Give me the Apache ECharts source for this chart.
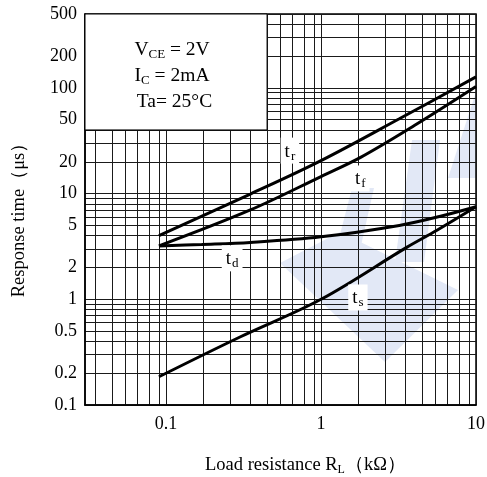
<!DOCTYPE html>
<html><head><meta charset="utf-8">
<script src="https://cdn.jsdelivr.net/npm/echarts@6/dist/echarts.min.js"></script>
<style>html,body{margin:0;padding:0;background:#fff}#c{width:487px;height:477px}</style>
</head><body><div id="c"></div>
<script>
// ---- data ----
const resistance_tr = [0.09, 0.35, 1, 3.2, 10];
const time_tr       = [4.0, 9.9, 20.5, 51, 127];
const resistance_tf = [0.09, 0.35, 1, 1.8, 4, 10];
const time_tf       = [3.2, 7.0, 14.5, 22, 44, 103];
const resistance_td = [0.09, 0.17, 0.35, 1, 3.2, 5.9, 10];
const time_td       = [3.2, 3.3, 3.45, 3.9, 5.0, 6.1, 7.5];
const resistance_ts = [0.09, 0.3, 1, 3.57, 5.6, 10];
const time_ts       = [0.185, 0.44, 1.0, 3.1, 4.5, 7.5];

const xTickLabels = [0.1, 1, 10];
const yTickLabels = [0.1, 0.2, 0.5, 1, 2, 5, 10, 20, 50, 100, 200, 500];
// grid line positions as drawn on the original sheet
const xGridValues = [0.035, 0.0449, 0.0542, 0.0656, 0.0785, 0.0904, 0.1,
  0.1726, 0.2588, 0.35, 0.4487, 0.542, 0.656, 0.785, 0.904, 1,
  1.726, 2.588, 3.5, 4.487, 5.42, 6.56, 7.85, 9.04, 10];
const yGridValues = [0.1, 0.2, 0.3, 0.4, 0.5, 0.6, 0.7, 0.8, 0.9,
  1, 2, 3, 4, 5, 6, 7, 8, 9,
  10, 20, 30, 40, 50, 60, 70, 80, 90,
  100, 200, 300, 400, 500];
const curveNames = ['t_r', 't_f', 't_d', 't_s'];
const curveLabels = [['r', 0.63, 25.5], ['f', 1.79, 13.9], ['d', 0.267, 2.44], ['s', 1.73, 1.04]];
const conditions = ['{v|V}{sub|CE}{v| = 2V}', '{v|I}{sub|C}{v| = 2mA}', '{v| Ta= 25°C}'];
const boxCorner = [[0.03, 40], [0.4487, 500]];

const FONT = '"Liberation Serif","Times New Roman",serif';
const chart = echarts.init(document.getElementById('c'), null, {renderer: 'canvas'});

function pairs(xs, ys) { return xs.map((x, i) => [x, ys[i]]); }
function fmt(v) { return String(+(+v).toPrecision(6)); }

const lineSeries = (name, xs, ys, extra) => Object.assign({
  name, type: 'line', data: pairs(xs, ys), smooth: 0.35, showSymbol: false, symbol: 'none',
  lineStyle: {color: '#000', width: 3}, z: 5, silent: true
}, extra || {});

chart.setOption({
  animation: false,
  backgroundColor: '#fff',
  grid: {left: 85, right: 11, top: 14, bottom: 72, show: true, backgroundColor: 'transparent',
         borderColor: '#000', borderWidth: 1.5, containLabel: false, outerBoundsMode: 'none'},
  xAxis: {
    type: 'log', logBase: 10, min: 0.03, max: 10,
    name: '{n|Load resistance R}{sub|L}{n|（kΩ）}', nameLocation: 'middle', nameGap: 50,
    nameTextStyle: {verticalAlign: 'top', padding: [0, 0, 0, 50], rich: {
      n: {fontFamily: FONT, fontSize: 18.5, color: '#000'},
      sub: {fontFamily: FONT, fontSize: 12, color: '#000', padding: [9, 0, 0, 0]}}},
    axisLine: {show: true, lineStyle: {color: '#000', width: 1.5}},
    axisTick: {show: false, customValues: xGridValues},
    axisLabel: {customValues: xTickLabels, formatter: fmt, margin: 10,
                fontFamily: FONT, fontSize: 18, color: '#000'},
    splitLine: {show: true, lineStyle: {color: '#1a1a1a', width: 1}},
    minorSplitLine: {show: false}
  },
  yAxis: {
    type: 'log', logBase: 10, min: 0.1, max: 500,
    name: 'Response time（μs）', nameLocation: 'middle', nameGap: 56, nameRotate: 90,
    nameTextStyle: {fontFamily: FONT, fontSize: 18.5, color: '#000', padding: [0, 12, 0, 0]},
    axisLine: {show: true, lineStyle: {color: '#000', width: 1.5}},
    axisTick: {show: false, customValues: yGridValues},
    axisLabel: {customValues: yTickLabels, formatter: fmt, margin: 8,
                fontFamily: FONT, fontSize: 18, color: '#000'},
    splitLine: {show: true, lineStyle: {color: '#1a1a1a', width: 1}},
    minorSplitLine: {show: false}
  },
  series: [
    lineSeries(curveNames[0], resistance_tr, time_tr, {
      markArea: {silent: true, itemStyle: {color: '#fff', borderColor: '#000', borderWidth: 1},
        data: [[{coord: boxCorner[0]}, {coord: boxCorner[1]}]]}
    }),
    lineSeries(curveNames[1], resistance_tf, time_tf),
    lineSeries(curveNames[2], resistance_td, time_td),
    lineSeries(curveNames[3], resistance_ts, time_ts)
  ]
});

function placeGraphics() {
  const els = [];
  // faint logo watermark in the background
  const wm = '#e2e8f6';
  [
    [[280, 263], [340, 232], [458, 290], [385, 362]],
    [[336, 250], [352, 188], [374, 188], [360, 250]],
    [[395, 262], [412, 140], [440, 140], [424, 262]],
    [[448, 178], [476, 92], [476, 178]]
  ].forEach(p => els.push({type: 'polygon', z: -10, silent: true, shape: {points: p}, style: {fill: wm}}));

  const c0 = chart.convertToPixel({gridIndex: 0}, boxCorner[0]);
  const c1 = chart.convertToPixel({gridIndex: 0}, boxCorner[1]);
  const cx = (c0[0] + c1[0]) / 2 - 4;
  conditions.forEach((t, i) => {
    els.push({type: 'text', z: 20, x: cx, y: c1[1] + 36 + i * 26, style: {
      text: t, align: 'center', verticalAlign: 'middle',
      rich: {v: {fontFamily: FONT, fontSize: 19.5, fill: '#000', color: '#000'},
             sub: {fontFamily: FONT, fontSize: 13, fill: '#000', color: '#000', padding: [10, 0, 0, 0]}}
    }});
  });
  curveLabels.forEach(([s, x, y]) => {
    const p = chart.convertToPixel({gridIndex: 0}, [x, y]);
    els.push({type: 'text', z: 20, x: p[0], y: p[1], style: {
      text: '{t|t}{s|' + s + '}', align: 'center', verticalAlign: 'middle',
      backgroundColor: '#fff', padding: [3, 4, 1, 4],
      rich: {t: {fontFamily: FONT, fontSize: 19, fill: '#000', color: '#000'},
             s: {fontFamily: FONT, fontSize: 13, fill: '#000', color: '#000', padding: [9, 0, 0, 1]}}
    }});
  });
  chart.setOption({graphic: {elements: els}});
}
placeGraphics();
</script></body></html>
